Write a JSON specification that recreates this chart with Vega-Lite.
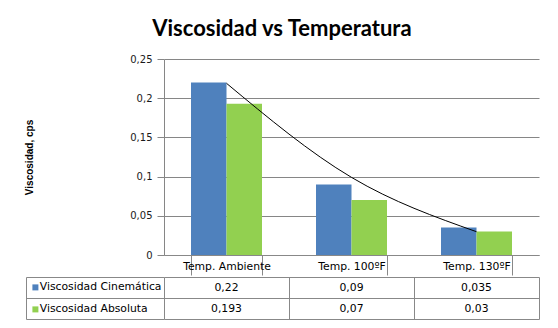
{
  "$schema": "https://vega.github.io/schema/vega-lite/v6.json",
  "background": "white",
  "padding": {"left": 24, "top": 18, "right": 5, "bottom": 5},
  "title": {"text": "Viscosidad vs Temperatura", "font": "Lato", "fontSize": 22, "fontWeight": "bold", "color": "#000000", "anchor": "middle", "offset": 13},
  "datasets": {
    "bars": [
      {"category": "Temp. Ambiente", "series": "Viscosidad Cinemática", "value": 0.22},
      {"category": "Temp. 100ºF", "series": "Viscosidad Cinemática", "value": 0.09},
      {"category": "Temp. 130ºF", "series": "Viscosidad Cinemática", "value": 0.035},
      {"category": "Temp. Ambiente", "series": "Viscosidad Absoluta", "value": 0.193},
      {"category": "Temp. 100ºF", "series": "Viscosidad Absoluta", "value": 0.07},
      {"category": "Temp. 130ºF", "series": "Viscosidad Absoluta", "value": 0.03}
    ],
    "trend": [
      {"category": "Temp. Ambiente", "value": 0.219},
      {"category": "Temp. 100ºF", "value": 0.099},
      {"category": "Temp. 130ºF", "value": 0.0297}
    ]
  },
  "spacing": 0,
  "resolve": {"scale": {"x": "independent", "y": "independent", "color": "shared"}},
  "vconcat": [
    {
      "width": 375,
      "height": 196,
      "view": {"stroke": null},
      "encoding": {
        "x": {
          "field": "category", "type": "nominal",
          "scale": {"domain": ["Temp. Ambiente", "Temp. 100ºF", "Temp. 130ºF"], "paddingInner": 0.432, "paddingOuter": 0.216},
          "axis": {"title": null, "labelAngle": 0, "tickBand": "extent", "tickSize": 20, "tickColor": "#888888", "domainColor": "#888888", "labelPadding": -15, "labelFont": "DejaVu Sans", "labelFontSize": 10.8, "labelColor": "#000000", "grid": false}
        },
        "y": {
          "field": "value", "type": "quantitative",
          "scale": {"domain": [0, 0.25], "nice": false},
          "axis": {"title": "Viscosidad, cps", "titleFont": "Liberation Sans", "titleFontSize": 10, "titleFontWeight": "bold", "titleColor": "#000000", "titlePadding": 95, "values": [0, 0.05, 0.1, 0.15, 0.2, 0.25], "labelOverlap": false, "format": ".2~f", "tickSize": 7, "tickColor": "#868686", "gridColor": "#868686", "domainColor": "#868686", "labelPadding": 5, "labelFont": "DejaVu Sans", "labelFontSize": 10, "labelColor": "#1a1a1a"}
        }
      },
      "layer": [
        {
          "data": {"name": "bars"},
          "mark": {"type": "bar"},
          "encoding": {
            "xOffset": {"field": "series", "type": "nominal", "scale": {"domain": ["Viscosidad Cinemática", "Viscosidad Absoluta"]}},
            "color": {
              "field": "series", "type": "nominal",
              "scale": {"domain": ["Viscosidad Cinemática", "Viscosidad Absoluta"], "range": ["#4F81BD", "#92D050"]},
              "legend": {"orient": "none", "legendX": -134, "legendY": 223, "title": null, "direction": "vertical", "symbolType": "square", "symbolSize": 36, "symbolStrokeWidth": 0, "symbolOpacity": 1, "labelOffset": -1, "rowPadding": 10, "padding": 0, "labelFont": "DejaVu Sans", "labelFontSize": 10.8, "labelColor": "#000000"}
            }
          }
        },
        {
          "data": {"name": "trend"},
          "mark": {"type": "line", "interpolate": "monotone", "color": "#000000", "strokeWidth": 1},
          "encoding": {}
        }
      ]
    },
    {
      "width": 375,
      "height": 42,
      "view": {"stroke": null},
      "data": {"name": "bars"},
      "mark": {"type": "text", "font": "DejaVu Sans", "fontSize": 10.8, "color": "#000000"},
      "encoding": {
        "x": {
          "field": "category", "type": "nominal",
          "scale": {"domain": ["Temp. Ambiente", "Temp. 100ºF", "Temp. 130ºF"], "paddingInner": 0, "paddingOuter": 0},
          "axis": {"title": null, "labels": false, "ticks": false, "domain": false, "grid": true, "tickBand": "extent", "gridColor": "#888888", "gridOpacity": 1}
        },
        "y": {
          "field": "series", "type": "nominal",
          "scale": {"domain": ["Viscosidad Cinemática", "Viscosidad Absoluta"], "paddingInner": 0, "paddingOuter": 0},
          "axis": {"title": null, "labels": false, "tickBand": "extent", "tickSize": -138, "offset": 138, "grid": true, "gridColor": "#888888", "gridOpacity": 1, "tickColor": "#888888", "domainColor": "#888888"}
        },
        "text": {"field": "value", "type": "quantitative", "format": ".3~f"}
      }
    }
  ],
  "config": {
    "locale": {"number": {"decimal": ",", "thousands": ".", "grouping": [3], "currency": ["", " €"]}},
    "view": {"stroke": null},
    "axis": {"gridWidth": 1, "domainWidth": 1, "tickWidth": 1}
  }
}
